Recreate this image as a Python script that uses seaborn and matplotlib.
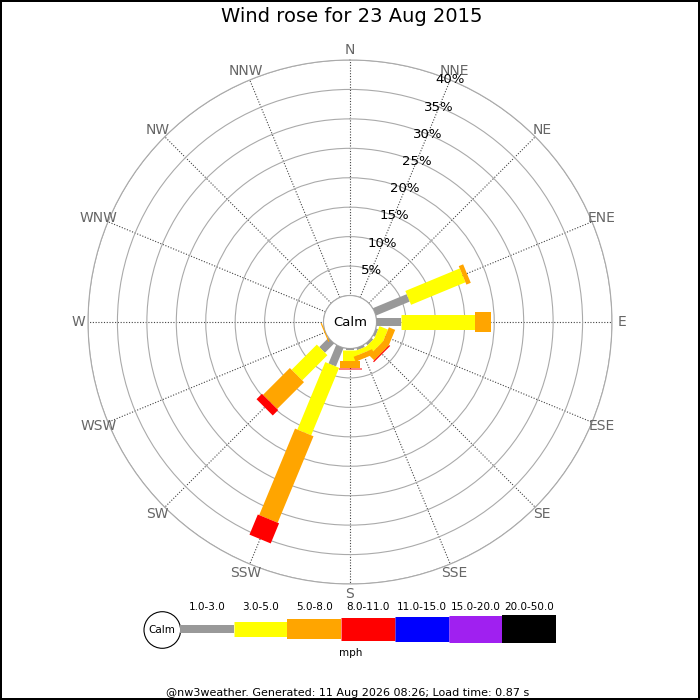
import numpy as np
import matplotlib
matplotlib.use('Agg')
import matplotlib.pyplot as plt
import seaborn as sns
from matplotlib.patches import Circle

sns.set_style('white')
plt.rcParams['font.family'] = ['DejaVu Sans']
plt.rcParams['text.color'] = 'black'

directions = ['N', 'NNE', 'NE', 'ENE', 'E', 'ESE', 'SE', 'SSE',
              'S', 'SSW', 'SW', 'WSW', 'W', 'WNW', 'NW', 'NNW']
speed_bins = ['1.0-3.0', '3.0-5.0', '5.0-8.0', '8.0-11.0',
              '11.0-15.0', '15.0-20.0', '20.0-50.0']
speed_colors = ['#999999', '#ffff00', '#ffa500', '#ff0000',
                '#0000ff', '#a020f0', '#000000']
bar_px = [8, 15, 20, 23, 25, 27, 28]

# % of time from each direction, one list per speed bin (mph)
pct_1_3 = [0, 0, 0, 6.2, 4.1, 0.4, 0.4, 0.4, 0.3, 3.4, 2.2, 0, 0, 0, 0, 0]
pct_3_5 = [0, 0, 0, 10.0, 12.7, 1.55, 1.4, 0.8, 1.9, 12.4, 6.05, 0, 0, 0, 0, 0]
pct_5_8 = [0, 0, 0, 0.8, 2.6, 1.15, 1.2, 0.9, 1.15, 15.9, 6.45, 0.2, 0, 0, 0, 0]
pct_8_11 = [0, 0, 0, 0, 0, 0, 0.2, 0, 0.2, 3.7, 1.3, 0, 0, 0, 0, 0]
pct_11_15 = [0] * 16
pct_15_20 = [0] * 16
pct_20_50 = [0] * 16
speed_pct = [pct_1_3, pct_3_5, pct_5_8, pct_8_11, pct_11_15, pct_15_20, pct_20_50]

ring_ticks = [5, 10, 15, 20, 25, 30, 35, 40]

fig = plt.figure(figsize=(7, 7), dpi=100, edgecolor='black', linewidth=1.5)
fig.patch.set_facecolor('white')

R = 262
ax = fig.add_axes([(350 - R) / 700, (700 - 322 - R) / 700, 2 * R / 700, 2 * R / 700],
                  projection='polar')
ax.set_theta_zero_location('N')
ax.set_theta_direction(-1)
ax.set_ylim(0, 40)
ax.set_rorigin(-4.5)

theta = np.deg2rad(np.arange(len(directions)) * 22.5)
ax.set_xticks(theta)
ax.set_xticklabels([])
ax.set_yticks([0] + ring_ticks)
ax.set_yticklabels([])
ax.tick_params(length=0)
ax.xaxis.grid(True, color='#444444', linestyle=(0, (1, 1.5)), linewidth=0.8)
ax.yaxis.grid(True, color='#aaaaaa', linestyle='-', linewidth=0.8)
ax.set_axisbelow(True)
for sp in ax.spines.values():
    sp.set_color('#aaaaaa')
    sp.set_linewidth(0.8)

# stacked bars, each speed bin as a thick radial segment
base = np.zeros(len(directions))
for vals, color, w in zip(speed_pct, speed_colors, bar_px):
    vals = np.asarray(vals, dtype=float)
    for th, b, v in zip(theta, base, vals):
        if v > 0:
            ax.plot([th, th], [b, b + v], color=color, lw=w * 0.72,
                    solid_capstyle='butt', zorder=3)
    base = base + vals

for th, d in zip(theta, directions):
    ax.text(th, 41.7, d, ha='center', va='center', color='#666666', fontsize=10)

for p in ring_ticks:
    ax.text(np.deg2rad(22.5), p, f'{p}%', ha='center', va='center',
            fontsize=9.5, color='black', zorder=4)

ax.text(0.5, 0.5, 'Calm', transform=ax.transAxes, ha='center', va='center',
        fontsize=9.5, color='black')

# overlay in pixel coords for title, legend and footer
lax = fig.add_axes([0, 0, 1, 1])
lax.set_xlim(0, 700)
lax.set_ylim(700, 0)
lax.axis('off')

lax.text(352, 17, 'Wind rose for 23 Aug 2015', ha='center', va='center', fontsize=14)

lax.add_patch(Circle((162.3, 630), 18.3, facecolor='white', edgecolor='black', lw=0.8))
lax.text(162.3, 630, 'Calm', ha='center', va='center', fontsize=7.5)

seg = 53.7
for i, (lab, color, w) in enumerate(zip(speed_bins, speed_colors, bar_px)):
    x0 = 180 + i * seg
    lax.plot([x0, x0 + seg], [629, 629], color=color, lw=w * 0.72, solid_capstyle='butt')
    lax.text(x0 + seg / 2, 607, lab, ha='center', va='center', fontsize=7.5)

lax.text(350.7, 653, 'mph', ha='center', va='center', fontsize=7.5)
lax.text(348, 692.5, '@nw3weather. Generated: 11 Aug 2026 08:26; Load time: 0.87 s',
         ha='center', va='center', fontsize=8)

fig.savefig('out.png', dpi=100)
